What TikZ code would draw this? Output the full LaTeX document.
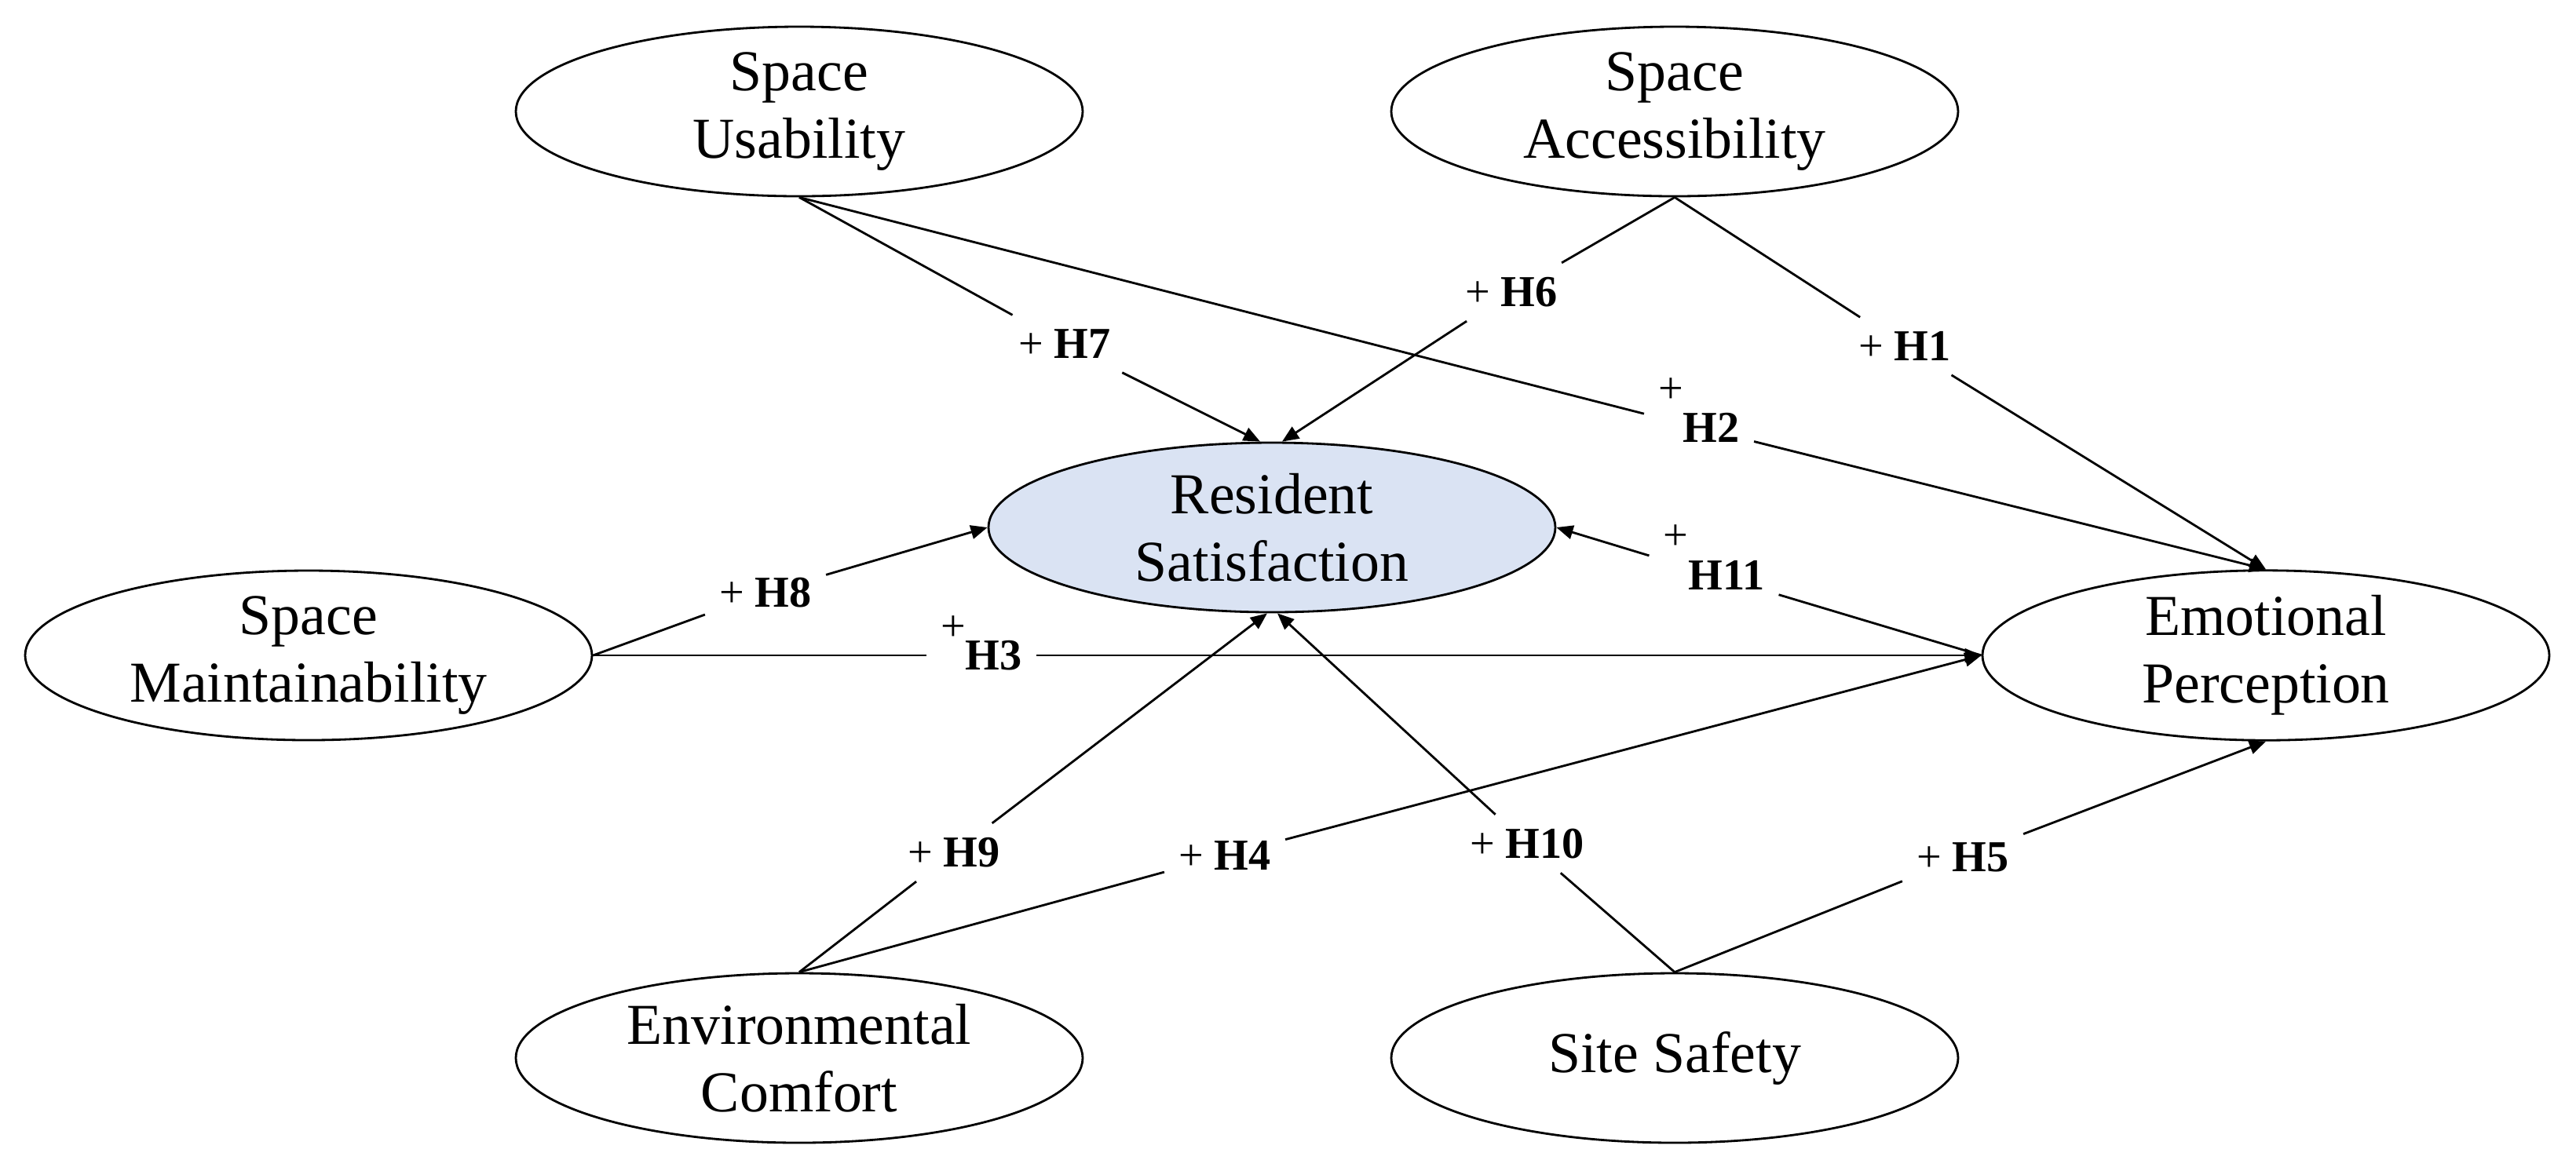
\documentclass[tikz,border=0pt]{standalone}
\usepackage{fontspec}
\setmainfont{Liberation Serif}
\usetikzlibrary{shapes.geometric,arrows.meta}

\definecolor{satblue}{RGB}{218,227,243}
\newcommand{\hlab}[1]{+ \textbf{#1}}
\newcommand{\hlabup}[2][0.9em]{\smash{\raisebox{#1}{+}}\textbf{#2}}

\tikzset{
  construct/.style = {draw, ellipse, line width=0.8pt, minimum width=7.22cm,
    minimum height=2.16cm, inner sep=0pt, align=center,
    font=\fontsize{21}{24.5}\selectfont},
  hyplabel/.style = {inner sep=5pt, font=\fontsize{16}{19}\selectfont},
  link/.style = {line width=0.8pt},
  linkarr/.style = {line width=0.8pt, -{Triangle[length=6pt,width=5pt]}}
}

\begin{document}
\begin{tikzpicture}
      \useasboundingbox (0,0) rectangle (32.81,-14.91);

      % Vertices
      \node[construct] (su) at (10.18,-1.42) {Space\\Usability};
      \node[construct] (sa) at (21.33,-1.42) {Space\\Accessibility};
      \node[construct, fill=satblue] (rs) at (16.20,-6.72) {Resident\\Satisfaction};
      \node[construct] (sm) at (3.93,-8.35) {Space\\Maintainability};
      \node[construct] (ep) at (28.86,-8.35) {Emotional\\Perception};
      \node[construct] (ec) at (10.18,-13.48) {Environmental\\Comfort};
      \node[construct] (ss) at (21.33,-13.48) {Site Safety};

      % Hypothesis labels
      \node[hyplabel] (h1) at (24.26,-4.41) {\hlab{H1}};
      \node[hyplabel] (h2) at (21.64,-5.45) {\hlabup{H2}};
      \node[hyplabel] (h3) at (12.50,-8.35) {\hlabup[0.65em]{H3}};
      \node[hyplabel] (h4) at (15.60,-10.90) {\hlab{H4}};
      \node[hyplabel] (h5) at (25.00,-10.92) {\hlab{H5}};
      \node[hyplabel] (h6) at (19.25,-3.72) {\hlab{H6}};
      \node[hyplabel] (h7) at (13.56,-4.38) {\hlab{H7}};
      \node[hyplabel] (h8) at (9.75,-7.55) {\hlab{H8}};
      \node[hyplabel] (h9) at (12.15,-10.86) {\hlab{H9}};
      \node[hyplabel] (h10) at (19.45,-10.75) {\hlab{H10}};
      \node[hyplabel] (h11) at (21.83,-7.33) {\hlabup{H11}};

      % Edges
      \draw[link] (sa.south) -- (h1);
      \draw[linkarr] (h1) -- (ep.north);
      \draw[link] (su.south) -- (h2);
      \draw[linkarr] (h2) -- (ep.north);
      \draw[link] (sm.east) -- (h3);
      \draw[linkarr] (h3) -- (ep.west);
      \draw[link] (ec.north) -- (h4);
      \draw[linkarr] (h4) -- (ep.west);
      \draw[link] (ss.north) -- (h5);
      \draw[linkarr] (h5) -- (ep.south);
      \draw[link] (sa.south) -- (h6);
      \draw[linkarr] (h6) -- ([xshift=1.3mm]rs.north);
      \draw[link] (su.south) -- (h7);
      \draw[linkarr] (h7) -- ([xshift=-1.5mm]rs.north);
      \draw[link] (sm.east) -- (h8);
      \draw[linkarr] (h8) -- (rs.west);
      \draw[link] (ec.north) -- (h9);
      \draw[linkarr] (h9) -- ([xshift=-0.6mm]rs.south);
      \draw[link] (ss.north) -- (h10);
      \draw[linkarr] (h10) -- ([xshift=0.7mm]rs.south);
      \draw[link] (ep.west) -- (h11);
      \draw[linkarr] (h11) -- (rs.east);
\end{tikzpicture}
\end{document}
